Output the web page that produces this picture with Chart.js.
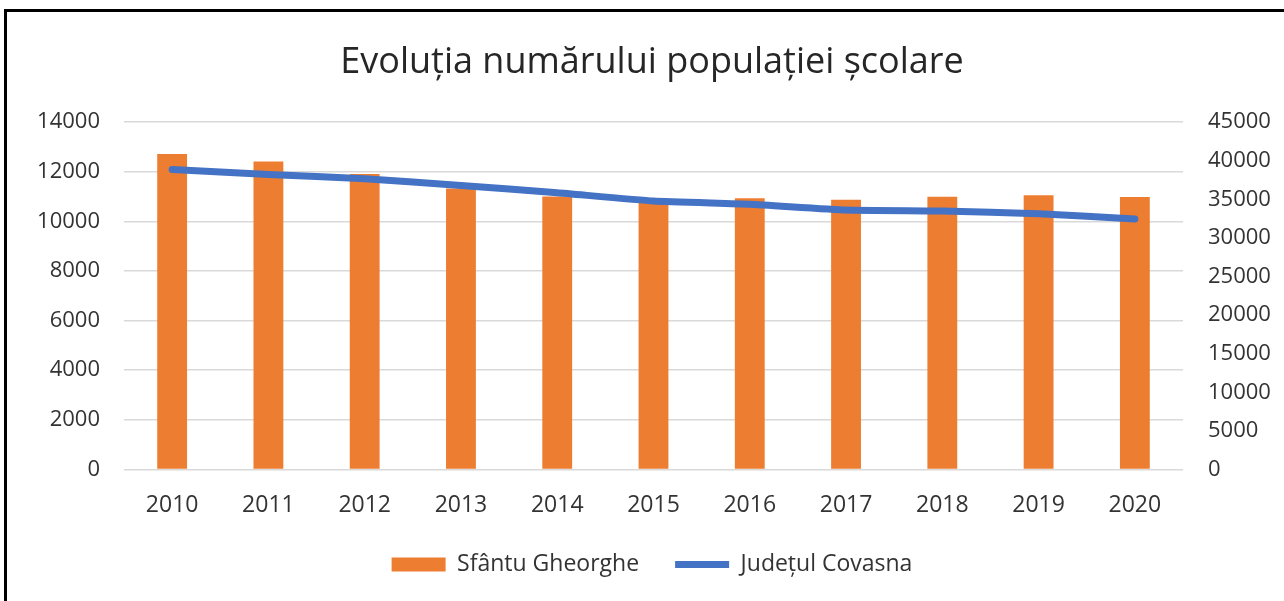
<!DOCTYPE html>
<html>
<head>
<meta charset="utf-8">
<script src="https://cdn.jsdelivr.net/npm/chart.js@4"></script>
<style>
	html, body { margin: 0; padding: 0; background: #fff; }
	#wrap { position: relative; width: 1284px; height: 601px; overflow: hidden; }
	#chart { position: absolute; left: 0; top: 0; }
	#frame { position: absolute; left: 4px; top: 9px; width: 1400px; height: 700px; border: 3px solid #000; pointer-events: none; }
</style>
</head>
<body>
<div id="wrap">
	<canvas id="chart" width="1284" height="601"></canvas>
	<div id="frame"></div>
</div>
<script>
var years = ['2010', '2011', '2012', '2013', '2014', '2015', '2016', '2017', '2018', '2019', '2020'];
var sfantuGheorghe = [12720, 12420, 11910, 11330, 11000, 10850, 10930, 10870, 10990, 11050, 10980];
var judetulCovasna = [38880, 38230, 37670, 36810, 35860, 34780, 34360, 33620, 33490, 33140, 32450];

var FONT = '"Open Sans", sans-serif';
var TEXT = '#333333';

function plain(value) { return String(value); }

new Chart(document.getElementById('chart'), {
	type: 'bar',
	data: {
		labels: years,
		datasets: [
			{
				type: 'line',
				label: 'Județul Covasna',
				data: judetulCovasna,
				yAxisID: 'y1',
				borderColor: '#4472C4',
				backgroundColor: '#4472C4',
				borderWidth: 7,
				borderCapStyle: 'round',
				borderJoinStyle: 'round',
				pointRadius: 0,
				pointStyle: 'line',
				tension: 0.15,
				order: 0,
			},
			{
				label: 'Sfântu Gheorghe',
				data: sfantuGheorghe,
				yAxisID: 'y',
				backgroundColor: '#ED7D31',
				borderWidth: 0,
				barPercentage: 0.31,
				categoryPercentage: 1,
				pointStyle: 'rect',
				order: 1,
			},
		],
	},
	options: {
		responsive: false,
		animation: false,
		layout: { padding: { left: 20, right: 0, top: 0, bottom: 15 } },
		plugins: {
			title: {
				display: true,
				text: 'Evoluția numărului populației școlare',
				color: '#262626',
				font: { family: FONT, size: 36, weight: 'normal' },
				padding: { top: 41, bottom: 38 },
			},
			legend: {
				position: 'bottom',
				reverse: true,
				labels: {
					usePointStyle: true,
					pointStyleWidth: 54,
					boxHeight: 14,
					color: TEXT,
					padding: 36,
					font: { family: FONT, size: 23 },
				},
			},
			tooltip: { enabled: false },
		},
		scales: {
			x: {
				grid: { display: false },
				border: { display: false },
				ticks: { color: TEXT, font: { family: FONT, size: 23 }, padding: 14 },
				afterFit: function(scale) { scale.height -= 16; },
			},
			y: {
				position: 'left',
				min: 0,
				max: 14000,
				ticks: { stepSize: 2000, callback: plain, color: TEXT, font: { family: FONT, size: 22 }, padding: 24 },
				grid: { color: '#d9d9d9', lineWidth: 1.5, drawTicks: false },
				border: { display: false },
				afterFit: function(scale) { scale.width = 104; },
			},
			y1: {
				position: 'right',
				min: 0,
				max: 45000,
				ticks: { stepSize: 5000, callback: plain, color: TEXT, font: { family: FONT, size: 22 }, padding: 25 },
				grid: { drawOnChartArea: false, drawTicks: false },
				border: { display: false },
				afterFit: function(scale) { scale.width = 101; },
			},
		},
	},
});
</script>
</body>
</html>
